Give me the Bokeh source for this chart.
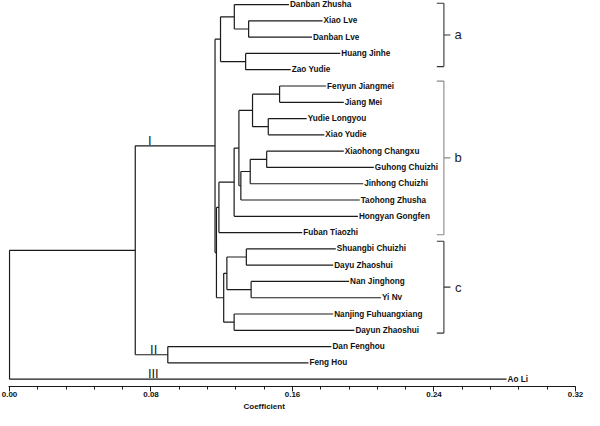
from bokeh.plotting import figure
from bokeh.models import Range1d, FixedTicker, PrintfTickFormatter, Title, ColumnDataSource
from bokeh.core.properties import value
from bokeh.embed import file_html
from bokeh.resources import INLINE

# ---- data -------------------------------------------------------------
leaf_names = ["Danban Zhusha", "Xiao Lve", "Danban Lve", "Huang Jinhe", "Zao Yudie",
              "Fenyun Jiangmei", "Jiang Mei", "Yudie Longyou", "Xiao Yudie",
              "Xiaohong Changxu", "Guhong Chuizhi", "Jinhong Chuizhi", "Taohong Zhusha",
              "Hongyan Gongfen", "Fuban Tiaozhi", "Shuangbi Chuizhi", "Dayu Zhaoshui",
              "Nan Jinghong", "Yi Nv", "Nanjing Fuhuangxiang", "Dayun Zhaoshui",
              "Dan Fenghou", "Feng Hou", "Ao Li"]
leaf_tips = [0.158, 0.177, 0.171, 0.187, 0.159,
             0.179, 0.189, 0.168, 0.178,
             0.189, 0.206, 0.200, 0.198,
             0.197, 0.1655, 0.1845, 0.183,
             0.192, 0.210, 0.183, 0.195,
             0.182, 0.169, 0.281]

# merges: node id = 24 + position in these lists
merge_left = [1, 0, 3, 25, 5, 7, 28, 9, 31, 32, 30, 34, 35, 15, 17, 37, 19, 39, 36, 27, 21, 43, 45]
merge_right = [2, 24, 4, 26, 6, 8, 29, 10, 11, 12, 33, 13, 14, 16, 18, 38, 20, 40, 41, 42, 22, 44, 23]
merge_height = [0.1352, 0.1271, 0.1335, 0.1193, 0.1527, 0.1463, 0.1374, 0.1454, 0.1361,
                0.1308, 0.1297, 0.1270, 0.1184, 0.1339, 0.1366, 0.1229, 0.1270, 0.1211,
                0.1170, 0.1162, 0.0895, 0.0711, 0.0]

cluster_labels = ["I", "II", "III"]
cluster_nodes = [43, 44, 23]
cluster_x = [0.0793, 0.0815, 0.0813]

group_labels = ["a", "b", "c"]
group_top = [-0.08, 4.70, 14.53]
group_bottom = [3.81, 14.13, 20.17]
group_colors = ["#333333", "#888888", "#333333"]

x_ticks = [0.0, 0.08, 0.16, 0.24, 0.32]
x_minor = [i * 0.016 for i in range(21)]

# ---- geometry from tree ----------------------------------------------
n_leaf = len(leaf_names)
node_x = list(leaf_tips)
node_y = [float(i) for i in range(n_leaf)]
x0, y0, x1, y1 = [], [], [], []
for l, r, h in zip(merge_left, merge_right, merge_height):
    yl, yr = node_y[l], node_y[r]
    x0.append(h); y0.append(yl); x1.append(h); y1.append(yr)
    for c in (l, r):
        x0.append(h); y0.append(node_y[c]); x1.append(node_x[c]); y1.append(node_y[c])
    node_x.append(h)
    node_y.append((yl + yr) / 2.0)

p = figure(width=584, height=410, output_backend="svg", toolbar_location=None,
           x_range=Range1d(-0.000565, 0.32), y_range=Range1d(23.45, -0.25),
           min_border_left=8, min_border_right=9, min_border_top=0, min_border_bottom=0,
           y_axis_location=None, title_location=None)
p.outline_line_color = None
p.xgrid.visible = False
p.ygrid.visible = False
p.background_fill_color = "white"

p.segment(x0=x0, y0=y0, x1=x1, y1=y1, line_color="#1a1a1a", line_width=1.2)

lab_src = ColumnDataSource(dict(x=leaf_tips, y=node_y[:n_leaf], t=leaf_names))
p.text(x="x", y="y", text="t", source=lab_src, x_offset=1,
       text_font=value("Liberation Sans"), text_font_style="bold", text_font_size="8.2px",
       text_baseline="middle", text_align="left", text_color="#111111")

# cluster marks I, II, III (sitting on the branch line)
p.text(x=cluster_x, y=[node_y[n] for n in cluster_nodes], text=cluster_labels,
       y_offset=2,
       text_font=value("Liberation Sans"), text_font_size="13px",
       text_baseline="bottom", text_align="center", text_color="#1a1a1a")

# brackets a, b, c
bx, hook, tick, lx = 0.2456, 0.2416, 0.2493, 0.2537
for g, t0, t1, col in zip(group_labels, group_top, group_bottom, group_colors):
    mid = (t0 + t1) / 2.0
    p.segment(x0=[bx, hook, hook, bx], y0=[t0, t0, t1, mid],
              x1=[bx, bx, bx, tick], y1=[t1, t0, t1, mid],
              line_color=col, line_width=1.1)
    p.text(x=[lx], y=[mid], text=[g], text_font=value("Liberation Sans"),
           text_font_size="13px", text_baseline="middle", text_align="center",
           text_color="#222222")

ax = p.xaxis[0]
ax.ticker = FixedTicker(ticks=x_ticks, minor_ticks=x_minor)
ax.formatter = PrintfTickFormatter(format="%.2f")
ax.major_label_text_font = "Liberation Sans"
ax.major_label_text_font_style = "bold"
ax.major_label_text_font_size = "8px"
ax.major_label_text_color = "#111111"
ax.major_label_standoff = 0
ax.major_tick_in = 0
ax.major_tick_out = 5
ax.minor_tick_in = 0
ax.minor_tick_out = 3
ax.axis_line_color = "#1a1a1a"
ax.major_tick_line_color = "#1a1a1a"
ax.minor_tick_line_color = "#1a1a1a"

t = Title(text="Coefficient", align="left", offset=235, text_font="Liberation Sans",
          text_font_style="bold", text_font_size="8px", text_color="#111111", standoff=0)
p.add_layout(t, "below")

open("out.html", "w").write(file_html(p, INLINE))
